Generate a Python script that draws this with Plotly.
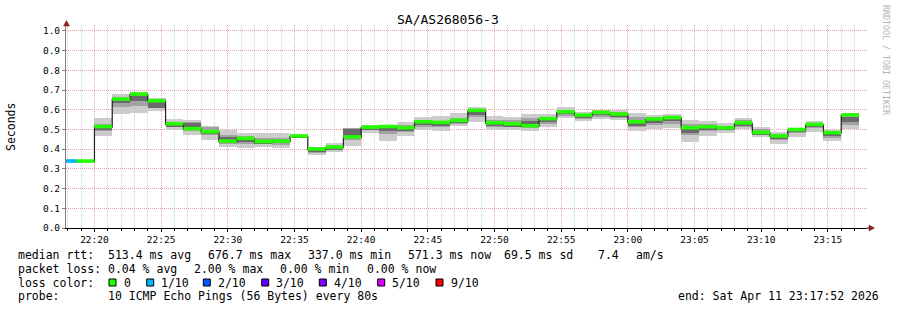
import plotly.graph_objects as go
import pandas as pd

# ---------------- data ----------------
bin_start = ["22:17:20", "22:18:40", "22:20:00", "22:21:20", "22:22:40", "22:24:00", "22:25:20",
             "22:26:40", "22:28:00", "22:29:20", "22:30:40", "22:32:00", "22:33:20", "22:34:40",
             "22:36:00", "22:37:20", "22:38:40", "22:40:00", "22:41:20", "22:42:40", "22:44:00",
             "22:45:20", "22:46:40", "22:48:00", "22:49:20", "22:50:40", "22:52:00", "22:53:20",
             "22:54:40", "22:56:00", "22:57:20", "22:58:40", "23:00:00", "23:01:20", "23:02:40",
             "23:04:00", "23:05:20", "23:06:40", "23:08:00", "23:09:20", "23:10:40", "23:12:00",
             "23:13:20", "23:14:40", "23:16:00"]
step_seconds = 80

median = [0.337, 0.337, 0.512, 0.651, 0.677, 0.643, 0.526, 0.501, 0.486, 0.438,
          0.452, 0.436, 0.438, 0.464, 0.398, 0.408, 0.459, 0.509, 0.512, 0.506,
          0.536, 0.533, 0.543, 0.594, 0.531, 0.526, 0.516, 0.552, 0.587, 0.570,
          0.584, 0.575, 0.536, 0.550, 0.557, 0.506, 0.511, 0.506, 0.531, 0.482,
          0.464, 0.497, 0.523, 0.481, 0.571]

smoke_min = [0.337, 0.337, 0.469, 0.580, 0.584, 0.594, 0.499, 0.472, 0.447, 0.413,
             0.408, 0.410, 0.405, 0.455, 0.371, 0.387, 0.418, 0.481, 0.442, 0.469,
             0.497, 0.492, 0.519, 0.540, 0.497, 0.497, 0.492, 0.514, 0.557, 0.545,
             0.553, 0.548, 0.492, 0.501, 0.506, 0.438, 0.469, 0.481, 0.503, 0.460,
             0.426, 0.464, 0.489, 0.442, 0.503]
smoke_max = [0.337, 0.337, 0.557, 0.679, 0.692, 0.662, 0.553, 0.550, 0.519, 0.497,
             0.481, 0.480, 0.481, 0.472, 0.413, 0.430, 0.509, 0.523, 0.523, 0.536,
             0.563, 0.569, 0.584, 0.614, 0.569, 0.565, 0.577, 0.580, 0.614, 0.587,
             0.599, 0.599, 0.582, 0.574, 0.578, 0.548, 0.543, 0.531, 0.557, 0.511,
             0.486, 0.509, 0.543, 0.497, 0.584]
mid_lo = [0.337, 0.337, 0.490, 0.615, 0.620, 0.610, 0.510, 0.490, 0.470, 0.425,
          0.425, 0.425, 0.420, 0.458, 0.380, 0.395, 0.445, 0.495, 0.475, 0.485,
          0.515, 0.515, 0.530, 0.565, 0.515, 0.510, 0.505, 0.530, 0.570, 0.555,
          0.565, 0.560, 0.515, 0.525, 0.530, 0.470, 0.490, 0.495, 0.515, 0.470,
          0.445, 0.480, 0.505, 0.455, 0.525]
mid_hi = [0.337, 0.337, 0.530, 0.665, 0.680, 0.655, 0.540, 0.540, 0.510, 0.470,
          0.465, 0.455, 0.455, 0.468, 0.405, 0.420, 0.505, 0.515, 0.515, 0.525,
          0.550, 0.545, 0.560, 0.605, 0.550, 0.550, 0.560, 0.565, 0.600, 0.580,
          0.590, 0.590, 0.565, 0.565, 0.570, 0.530, 0.530, 0.520, 0.550, 0.500,
          0.475, 0.505, 0.535, 0.490, 0.575]
core_lo = [0.337, 0.337, 0.495, 0.635, 0.645, 0.610, 0.515, 0.505, 0.475, 0.430,
           0.435, 0.425, 0.430, 0.458, 0.385, 0.400, 0.460, 0.500, 0.490, 0.490,
           0.525, 0.520, 0.535, 0.575, 0.520, 0.515, 0.510, 0.540, 0.580, 0.560,
           0.575, 0.565, 0.520, 0.535, 0.545, 0.480, 0.495, 0.500, 0.520, 0.475,
           0.450, 0.490, 0.510, 0.465, 0.540]
core_hi = [0.337, 0.337, 0.512, 0.655, 0.672, 0.640, 0.526, 0.535, 0.490, 0.460,
           0.452, 0.440, 0.445, 0.464, 0.398, 0.410, 0.500, 0.510, 0.510, 0.515,
           0.536, 0.535, 0.545, 0.594, 0.540, 0.540, 0.545, 0.552, 0.590, 0.570,
           0.585, 0.580, 0.550, 0.555, 0.560, 0.510, 0.515, 0.510, 0.535, 0.485,
           0.465, 0.500, 0.525, 0.480, 0.565]
loss_tenths = [1] + [0] * 44

loss_colors = {0: "#26ff00", 1: "#00b8ff", 2: "#0059ff", 3: "#5e00ff",
               4: "#7e00ff", 5: "#dd00ff", 9: "#ff0000"}
loss_labels = ["0", "1/10", "2/10", "3/10", "4/10", "5/10", "9/10"]
loss_keys = [0, 1, 2, 3, 4, 5, 9]

date = "2026-04-11"
x_start = f"{date} 22:17:52"
x_end = f"{date} 23:17:56"

# ---------------- geometry ----------------
W, H = 897, 310
L, R, T, B = 66, 30, 25, 82
PW, PH = W - L - R, H - T - B


def px(xp):
    return (xp - L) / PW


def py(yp):
    return (H - B - yp) / PH


starts = pd.to_datetime([f"{date} {t}" for t in bin_start])
step = pd.Timedelta(seconds=step_seconds)
centers = starts + step / 2
ends = starts + step
width_ms = step_seconds * 1000

fig = go.Figure()


def band(lo, hi, color):
    fig.add_trace(go.Bar(
        x=centers, base=lo, y=[h - l for l, h in zip(lo, hi)],
        width=width_ms, marker=dict(color=color, line=dict(width=0)),
        hoverinfo="skip", showlegend=False))


band(smoke_min, smoke_max, "#cccccc")
band(mid_lo, mid_hi, "#a2a2a2")
band(core_lo, core_hi, "#6a6a6a")

# median black step line
x_line = list(starts) + [ends[-1]]
y_line = median + [median[-1]]
fig.add_trace(go.Scatter(x=x_line, y=y_line, mode="lines",
                         line=dict(color="#202020", width=1.2, shape="hv"),
                         hoverinfo="skip", showlegend=False))

# loss-coloured median band (horizontal segments per bin, grouped by loss colour)
for key in sorted(set(loss_tenths)):
    xs, ys = [], []
    for s, e, m, l in zip(starts, ends, median, loss_tenths):
        if l == key:
            xs += [s, e, None]
            ys += [m + 0.003, m + 0.003, None]
    fig.add_trace(go.Scatter(x=xs, y=ys, mode="lines",
                             line=dict(color=loss_colors[key], width=3.6),
                             hoverinfo="skip", showlegend=False, connectgaps=False))

MONO = "DejaVu Sans Mono"
red_grid = "#eca0a0"
gray_grid = "#d2d2d2"

fig.update_layout(
    width=W, height=H, margin=dict(l=L, r=R, t=T, b=B),
    paper_bgcolor="white", plot_bgcolor="white",
    barmode="overlay", bargap=0, showlegend=False,
    font=dict(family=MONO, color="#000000"),
    xaxis=dict(
        type="date", range=[x_start, x_end], tickformat="%H:%M",
        tick0=f"{date} 22:20:00", dtick=300000,
        showgrid=True, gridcolor=red_grid, gridwidth=1, griddash="1px,1px",
        ticks="outside", ticklen=3, tickcolor="#000000",
        showline=True, linecolor="#000000", linewidth=1,
        tickfont=dict(family=MONO, size=9.5, color="#000000"),
        minor=dict(tick0=f"{date} 22:20:00", dtick=60000, showgrid=True,
                   gridcolor=gray_grid, griddash="1px,1px", gridwidth=1,
                   ticks="outside", ticklen=2, tickcolor="#000000"),
        zeroline=False, fixedrange=True),
    yaxis=dict(
        range=[0, 1.03], tick0=0, dtick=0.1, tickformat=".1f",
        showgrid=True, gridcolor=red_grid, gridwidth=1, griddash="1px,1px",
        ticks="outside", ticklen=3, tickcolor="#808080",
        showline=True, linecolor="#808080", linewidth=1,
        tickfont=dict(family=MONO, size=9.5, color="#000000"),
        zeroline=False, fixedrange=True),
)

ann = []


def text(x, y, s, size=11.5, color="#000000", xanchor="left", angle=0):
    ann.append(dict(x=px(x), y=py(y), xref="paper", yref="paper", text=s.replace(" ", "\u00a0"),
                    showarrow=False, xanchor=xanchor, yanchor="middle", textangle=angle,
                    font=dict(family=MONO, size=size, color=color), borderpad=0))


text(448, 19, "SA/AS268056-3", size=13, xanchor="center")
text(11, 127, "Seconds", size=11.5, xanchor="center", angle=-90)
text(886, 60, "RRDTOOL / TOBI OETIKER", size=8.3, color="#b4b4b4", xanchor="center", angle=90)

# row 1
r1 = 254.5
text(16.5, r1, "median rtt:")
for xx, s in [(107.3, "513.4 ms avg"), (206.7, "676.7 ms max"), (306.7, "337.0 ms min"),
              (406.7, "571.3 ms now"), (503.3, "69.5 ms sd"), (596.7, "7.4"), (635, "am/s")]:
    text(xx, r1, s)
# row 2
r2 = 268.5
text(16.5, r2, "packet loss:")
for xx, s in [(107.3, "0.04 % avg"), (193.3, "2.00 % max"), (279.3, "0.00 % min"), (365.7, "0.00 % now")]:
    text(xx, r2, s)
# row 3
r3 = 282.5
text(16.5, r3, "loss color:")
box_x = [109, 146.7, 203.3, 261.7, 319.3, 377.7, 436]
shapes = []
for bx, key, lab in zip(box_x, loss_keys, loss_labels):
    shapes.append(dict(type="rect", xref="paper", yref="paper",
                       x0=px(bx), x1=px(bx + 7), y0=py(r3 + 3.5), y1=py(r3 - 3.5),
                       fillcolor=loss_colors[key], line=dict(color="#000000", width=1)))
    text(bx + 13.5, r3, lab)
# row 4
r4 = 296
text(16.5, r4, "probe:")
text(107.3, r4, "10 ICMP Echo Pings (56 Bytes) every 80s")
text(880, r4, "end: Sat Apr 11 23:17:52 2026", xanchor="right")

# axis arrows
arrow_c = "#8b2020"
shapes.append(dict(type="path", xref="paper", yref="paper",
                   path=f"M {px(66.5)},{py(20.5)} L {px(63.5)},{py(26)} L {px(69.5)},{py(26)} Z",
                   fillcolor=arrow_c, line=dict(color=arrow_c, width=0.5)))
shapes.append(dict(type="line", xref="paper", yref="paper", x0=1, x1=px(870), y0=0, y1=0,
                   line=dict(color="#000000", width=1)))
shapes.append(dict(type="path", xref="paper", yref="paper",
                   path=f"M {px(874.5)},{py(228)} L {px(869)},{py(225)} L {px(869)},{py(231)} Z",
                   fillcolor=arrow_c, line=dict(color=arrow_c, width=0.5)))

fig.update_layout(annotations=ann, shapes=shapes)
fig.write_html("out.html")
